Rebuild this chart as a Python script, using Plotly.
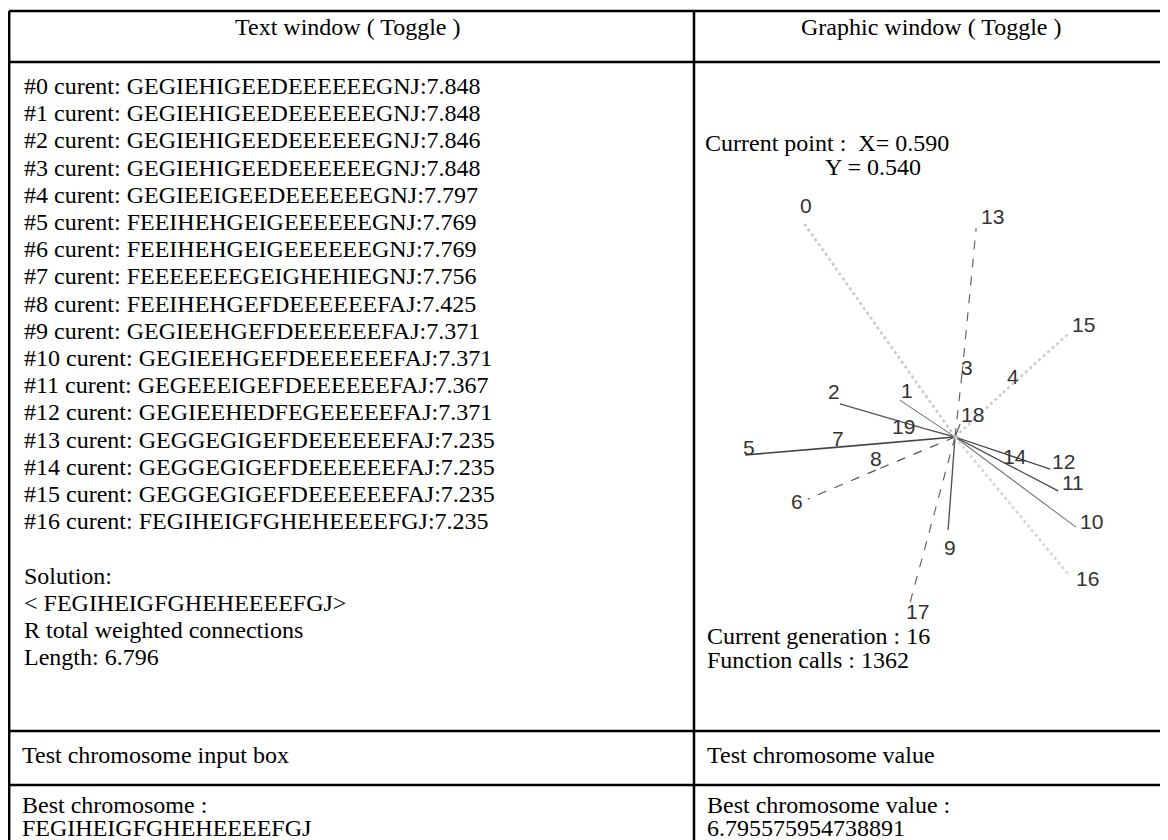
import plotly.graph_objects as go

# page is shown with an 8px body margin, so the figure is 8px smaller and shifted
OFF = 8
W, H = 1168 - OFF, 840 - OFF

# ---------------- data ----------------
generations = list(range(17))
chromosomes = [
    "GEGIEHIGEEDEEEEEEGNJ", "GEGIEHIGEEDEEEEEEGNJ", "GEGIEHIGEEDEEEEEEGNJ",
    "GEGIEHIGEEDEEEEEEGNJ", "GEGIEEIGEEDEEEEEEGNJ", "FEEIHEHGEIGEEEEEEGNJ",
    "FEEIHEHGEIGEEEEEEGNJ", "FEEEEEEEGEIGHEHIEGNJ", "FEEIHEHGEFDEEEEEEFAJ",
    "GEGIEEHGEFDEEEEEEFAJ", "GEGIEEHGEFDEEEEEEFAJ", "GEGEEEIGEFDEEEEEEFAJ",
    "GEGIEEHEDFEGEEEEEFAJ", "GEGGEGIGEFDEEEEEEFAJ", "GEGGEGIGEFDEEEEEEFAJ",
    "GEGGEGIGEFDEEEEEEFAJ", "FEGIHEIGFGHEHEEEEFGJ",
]
values = [7.848, 7.848, 7.846, 7.848, 7.797, 7.769, 7.769, 7.756, 7.425,
          7.371, 7.371, 7.367, 7.371, 7.235, 7.235, 7.235, 7.235]

solution = "FEGIHEIGFGHEHEEEEFGJ"
solution_length = 6.796
best_value = "6.795575954738891"
current_x = 0.590
current_y = 0.540
current_generation = 16
function_calls = 1362

# graph nodes (unit-square coordinates)
node_ids = ["0", "1", "2", "3", "4", "5", "6", "7", "8", "9",
            "10", "11", "12", "13", "14", "15", "16", "17", "18", "19"]
node_x = [0.260, 0.470, 0.340, 0.605, 0.694, 0.134, 0.270, 0.336, 0.418, 0.575,
          0.853, 0.814, 0.797, 0.636, 0.694, 0.836, 0.836, 0.492, 0.601, 0.522]
node_y = [1.007, 0.620, 0.612, 0.675, 0.636, 0.501, 0.405, 0.518, 0.468, 0.338,
          0.344, 0.423, 0.470, 0.994, 0.505, 0.764, 0.242, 0.179, 0.568, 0.559]
edges = [("C", "3"), ("3", "13"), ("C", "4"), ("4", "15"), ("C", "19"), ("19", "2"),
         ("C", "1"), ("C", "18"), ("C", "7"), ("7", "5"), ("C", "8"), ("8", "6"),
         ("C", "14"), ("14", "12"), ("C", "11"), ("C", "10"), ("C", "9"),
         ("C", "17"), ("C", "16"), ("C", "0")]

# ---------------- styles / layout ----------------
SERIF = "Liberation Serif, Times New Roman, serif"
SANS = "Liberation Sans, Arial, sans-serif"
FS = 24

edge_style = {
    "3": ("dash", "#666666", 1.2), "13": ("dash", "#666666", 1.2),
    "4": ("dot", "#cccccc", 2.5), "15": ("dot", "#cccccc", 2.5),
    "0": ("dot", "#c8c8c8", 2.5), "16": ("dot", "#d5d5d5", 2.5),
    "19": ("solid", "#555555", 1.3), "2": ("solid", "#555555", 1.3),
    "1": ("solid", "#666666", 1.0), "18": ("solid", "#555555", 1.2),
    "7": ("solid", "#444444", 1.6), "5": ("solid", "#444444", 1.6),
    "8": ("dash", "#555555", 1.2), "6": ("dash", "#555555", 1.2),
    "14": ("solid", "#444444", 1.3), "12": ("solid", "#444444", 1.3),
    "11": ("solid", "#444444", 1.3), "10": ("solid", "#777777", 1.1),
    "9": ("solid", "#555555", 1.4), "17": ("dash", "#666666", 1.2),
}
# label offsets in pixels (dx, dy downward)
label_off = {
    "0": (3, -17), "1": (7, -10), "2": (-6, -12), "3": (5, -7), "4": (10, -16),
    "5": (4, -7), "6": (-11, 2), "7": (0, -9), "8": (0, -12), "9": (2, 18),
    "10": (16, -6), "11": (15, -8), "12": (13, -8), "13": (16, -12), "14": (12, 3),
    "15": (15, -9), "16": (19, 4), "17": (8, 8), "18": (12, -10), "19": (-20, -2),
}

pos = {"C": (current_x, current_y)}
for i, n in enumerate(node_ids):
    pos[n] = (node_x[i], node_y[i])

fig = go.Figure()
for a, b in edges:
    dash, col, wd = edge_style[b]
    fig.add_trace(go.Scatter(
        x=[pos[a][0], pos[b][0]], y=[pos[a][1], pos[b][1]], mode="lines",
        line=dict(color=col, width=wd, dash=dash), hoverinfo="skip", showlegend=False,
        xaxis="x", yaxis="y"))


def fx(px):  # page px -> paper x
    return (px - OFF) / W


def fy(py):  # page px -> paper y
    return 1 - (py - OFF) / H


# graph axis: page pixel box 700..1160 (x), 180..650 (y), 460 px per unit
px0, px1, py0, py1 = 700, 1160, 180, 650
S = 460.0
HX, HY = 955, 437
xr = [current_x + (px0 - HX) / S, current_x + (px1 - HX) / S]
yr = [current_y - (py1 - HY) / S, current_y - (py0 - HY) / S]

annotations = []
for i, n in enumerate(node_ids):
    dx, dy = label_off[n]
    annotations.append(dict(x=node_x[i], y=node_y[i], xref="x", yref="y", text=n,
                            showarrow=False, xshift=dx, yshift=-dy,
                            font=dict(family=SANS, size=21, color="#333333")))


def txt(px, py, s, anchor="left", size=FS):
    annotations.append(dict(x=fx(px), y=fy(py), xref="paper", yref="paper", text=s,
                            showarrow=False, xanchor=anchor, yanchor="middle",
                            font=dict(family=SERIF, size=size, color="#000000")))


NB = "\u00a0"
txt(348, 27, "Text window ( Toggle )", "center")
txt(931, 27, "Graphic window ( Toggle )", "center")

y0, dy = 86, 27.2
for k, (g, c, v) in enumerate(zip(generations, chromosomes, values)):
    txt(22, y0 + k * dy, f"#{g} curent: {c}:{v:.3f}")
yb = y0 + 18 * dy
txt(22, yb, "Solution:")
txt(22, yb + dy, f"&lt; {solution}&gt;")
txt(22, yb + 2 * dy, "R total weighted connections")
txt(22, yb + 3 * dy, f"Length: {solution_length:.3f}")

txt(703, 143, f"Current point :{NB}{NB}X= {current_x:.3f}")
txt(823, 167, f"Y = {current_y:.3f}")
txt(705, 636, f"Current generation : {current_generation}")
txt(705, 660, f"Function calls : {function_calls}")

txt(20, 755, "Test chromosome input box")
txt(705, 755, "Test chromosome value")
txt(20, 805, "Best chromosome :")
txt(20, 828, solution)
txt(705, 805, "Best chromosome value :")
txt(705, 828, best_value)

shapes = []


def hline(py, x0=OFF + 1, x1=1168, w=2.5):
    shapes.append(dict(type="line", xref="paper", yref="paper", x0=fx(x0), x1=fx(x1),
                       y0=fy(py), y1=fy(py), line=dict(color="black", width=w)))


def vline(px, ya=11, yb2=840, w=2.5):
    shapes.append(dict(type="line", xref="paper", yref="paper", x0=fx(px), x1=fx(px),
                       y0=fy(ya), y1=fy(yb2), line=dict(color="black", width=w)))


hline(11)
hline(62)
hline(731)
hline(785)
vline(OFF + 1.2)
vline(694)

fig.update_layout(
    width=W, height=H, margin=dict(l=0, r=0, t=0, b=0),
    paper_bgcolor="white", plot_bgcolor="rgba(0,0,0,0)",
    xaxis=dict(domain=[fx(px0), fx(px1)], range=xr, visible=False, showgrid=False, zeroline=False),
    yaxis=dict(domain=[fy(py1), fy(py0)], range=yr, visible=False, showgrid=False, zeroline=False),
    annotations=annotations, shapes=shapes, showlegend=False,
)

fig.write_html("out.html")
